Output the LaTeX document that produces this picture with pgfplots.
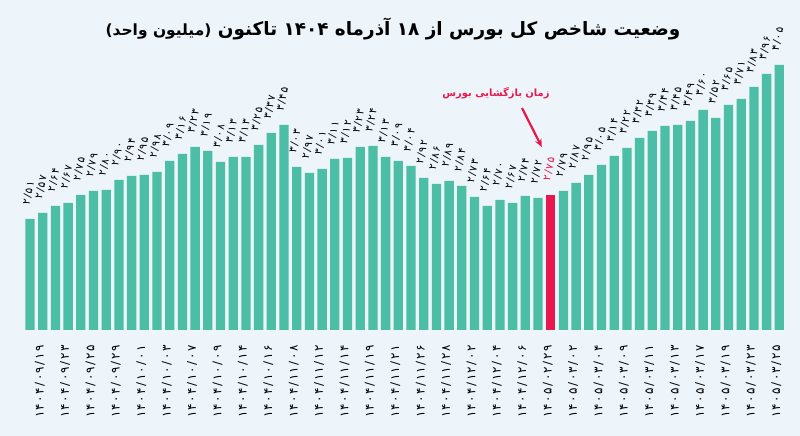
\documentclass[border=0pt]{standalone}
\usepackage{pgfplots}
\pgfplotsset{compat=1.18}
\usepackage{fontspec}
\usetikzlibrary{arrows.meta}
\TeXXeTstate=1
\newfontfamily\fa[Script=Arabic]{DejaVu Sans}
\newfontfamily\fal[Script=Arabic, LetterSpace=12]{DejaVu Sans}
\newfontfamily\fav[Script=Arabic, LetterSpace=10]{DejaVu Sans}
\definecolor{bgc}{RGB}{237,244,250}
\definecolor{barc}{RGB}{77,190,166}
\definecolor{redb}{RGB}{232,24,78}
\newcommand\dl[1]{\hbox{#1}}
\begin{document}
\begin{tikzpicture}
\fill[bgc] (0,0) rectangle (800bp,436bp);
\begin{axis}[at={(23.65bp,106bp)}, anchor=south west, scale only axis,
  width=762bp, height=310bp,
  xmin=0.5, xmax=60.5, ymin=1.4, ymax=4.5,
  axis line style={draw=none}, ytick=\empty,
  xtick={2,4,...,60}, major tick length=0pt,
  xticklabel style={xshift=-3bp, rotate=90, anchor=east, font=\fal\fontsize{12}{14}\selectfont},
  xticklabel shift=12bp,
  xticklabels={\dl{۱۴۰۴/۰۹/۱۹},\dl{۱۴۰۴/۰۹/۲۳},\dl{۱۴۰۴/۰۹/۲۵},\dl{۱۴۰۴/۰۹/۲۹},\dl{۱۴۰۴/۱۰/۰۱},\dl{۱۴۰۴/۱۰/۰۳},\dl{۱۴۰۴/۱۰/۰۷},\dl{۱۴۰۴/۱۰/۰۹},\dl{۱۴۰۴/۱۰/۱۴},\dl{۱۴۰۴/۱۰/۱۶},\dl{۱۴۰۴/۱۱/۰۸},\dl{۱۴۰۴/۱۱/۱۲},\dl{۱۴۰۴/۱۱/۱۴},\dl{۱۴۰۴/۱۱/۱۹},\dl{۱۴۰۴/۱۱/۲۱},\dl{۱۴۰۴/۱۱/۲۶},\dl{۱۴۰۴/۱۱/۲۸},\dl{۱۴۰۴/۱۲/۰۲},\dl{۱۴۰۴/۱۲/۰۴},\dl{۱۴۰۴/۱۲/۰۶},\dl{۱۴۰۵/۰۲/۲۹},\dl{۱۴۰۵/۰۳/۰۲},\dl{۱۴۰۵/۰۳/۰۴},\dl{۱۴۰۵/۰۳/۰۹},\dl{۱۴۰۵/۰۳/۱۱},\dl{۱۴۰۵/۰۳/۱۳},\dl{۱۴۰۵/۰۳/۱۷},\dl{۱۴۰۵/۰۳/۱۹},\dl{۱۴۰۵/۰۳/۲۳},\dl{۱۴۰۵/۰۳/۲۵}},
]
\addplot[ybar, bar width=9.3bp, fill=barc, draw=none,
  point meta=explicit symbolic,
  nodes near coords={\pgfplotspointmeta},
  every node near coord/.append style={xshift=-4bp, yshift=14bp, rotate=78, anchor=west, inner sep=0pt,
     font=\fav\fontsize{10.5}{12}\selectfont, text=black}]
coordinates {
(1,2.51) [۲/۵۱] (2,2.57) [۲/۵۷] (3,2.64) [۲/۶۴] (4,2.67) [۲/۶۷] (5,2.75) [۲/۷۵]
(6,2.79) [۲/۷۹] (7,2.80) [۲/۸۰] (8,2.90) [۲/۹۰] (9,2.94) [۲/۹۴] (10,2.95) [۲/۹۵]
(11,2.98) [۲/۹۸] (12,3.09) [۳/۰۹] (13,3.16) [۳/۱۶] (14,3.23) [۳/۲۳] (15,3.19) [۳/۱۹]
(16,3.08) [۳/۰۸] (17,3.13) [۳/۱۳] (18,3.13) [۳/۱۳] (19,3.25) [۳/۲۵] (20,3.37) [۳/۳۷]
(21,3.45) [۳/۴۵] (22,3.03) [۳/۰۳] (23,2.97) [۲/۹۷] (24,3.01) [۳/۰۱] (25,3.11) [۳/۱۱]
(26,3.12) [۳/۱۲] (27,3.23) [۳/۲۳] (28,3.24) [۳/۲۴] (29,3.13) [۳/۱۳] (30,3.09) [۳/۰۹]
(31,3.04) [۳/۰۴] (32,2.92) [۲/۹۲] (33,2.86) [۲/۸۶] (34,2.89) [۲/۸۹] (35,2.84) [۲/۸۴]
(36,2.73) [۲/۷۳] (37,2.64) [۲/۶۴] (38,2.70) [۲/۷۰] (39,2.67) [۲/۶۷] (40,2.74) [۲/۷۴]
(41,2.72) [۲/۷۲] (43,2.79) [۲/۷۹] (44,2.87) [۲/۸۷] (45,2.95) [۲/۹۵]
(46,3.05) [۳/۰۵] (47,3.14) [۳/۱۴] (48,3.22) [۳/۲۲] (49,3.32) [۳/۳۲] (50,3.39) [۳/۳۹]
(51,3.44) [۳/۴۴] (52,3.45) [۳/۴۵] (53,3.49) [۳/۴۹] (54,3.60) [۳/۶۰] (55,3.52) [۳/۵۲]
(56,3.65) [۳/۶۵] (57,3.71) [۳/۷۱] (58,3.83) [۳/۸۳] (59,3.96) [۳/۹۶] (60,4.05) [۴/۰۵]
};
\addplot[ybar, bar width=9.3bp, fill=redb, draw=none,
  point meta=explicit symbolic,
  nodes near coords={\pgfplotspointmeta},
  every node near coord/.append style={xshift=-4bp, yshift=14bp, rotate=78, anchor=west, inner sep=0pt,
     font=\fav\fontsize{10.5}{12}\selectfont, text=redb}]
coordinates {(42,2.75) [۲/۷۵]};
\coordinate (arrA) at (axis cs:39.74,3.62);
\coordinate (arrB) at (axis cs:41.3,3.23);
\end{axis}
\node[font=\fa\bfseries\fontsize{18.5}{22}\selectfont] at (393bp,407bp)
  {\beginR وضعیت شاخص کل بورس از ۱۸ آذرماه ۱۴۰۴ تاکنون {\fontsize{15.5}{18}\selectfont (میلیون واحد)}\endR};
\node[font=\fa\bfseries\fontsize{10}{12}\selectfont, text=redb] at (496bp,343bp)
  {\beginR زمان بازگشایی بورس\endR};
\draw[redb, line width=2.2bp, -{Stealth[length=8bp,width=7bp]}] (arrA) -- (arrB);
\end{tikzpicture}
\end{document}
